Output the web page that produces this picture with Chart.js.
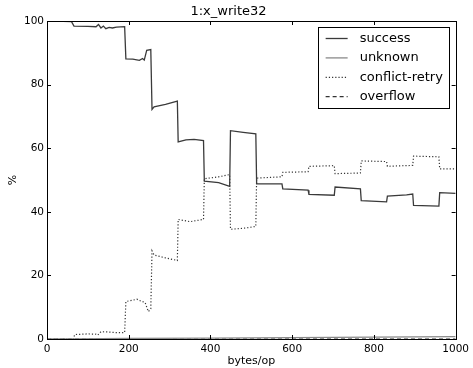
<!DOCTYPE html>
<html>
<head>
<meta charset="utf-8">
<script src="https://cdn.jsdelivr.net/npm/chart.js@4/dist/chart.umd.min.js"></script>
<style>
  body { margin: 0; background: #fff; }
  #wrap { width: 473px; height: 368px; }
</style>
</head>
<body>
<div id="wrap"><canvas id="c" width="473" height="368"></canvas></div>
<script>
// tick labels
var xTicks = [0, 200, 400, 600, 800, 1000];
var yTicks = [0, 20, 40, 60, 80, 100];

// success (% of ops)
var successX = [0, 40, 60, 66, 100, 120, 126, 132, 138, 144, 152, 160, 170, 190,
  193, 210, 226, 234, 238, 244, 254,
  257, 262, 290, 319, 321, 340, 360, 383, 385, 420, 447, 449, 480, 511,
  513, 575, 577, 639, 641, 703, 705, 767, 769, 831, 833, 880, 895, 897, 959, 961, 1000];
var successY = [100, 99.9, 99.8, 98.4, 98.3, 98.2, 98.9, 97.8, 98.4, 97.6, 98.0, 97.8, 98.1, 98.2,
  88.1, 88.0, 87.6, 88.2, 87.7, 90.8, 91.0,
  72.2, 73.0, 73.8, 74.8, 62.0, 62.6, 62.8, 62.4, 49.6, 49.2, 48.0, 65.5, 65.0, 64.5,
  48.8, 48.8, 47.2, 46.8, 45.5, 45.2, 47.8, 47.2, 43.5, 43.1, 44.9, 45.3, 45.6, 42.0, 41.8, 46.0, 45.8];

// conflict-retry
var conflictX = [0, 64, 68, 100, 120, 124, 132, 150, 170, 190,
  193, 210, 220, 232, 240, 248, 254,
  257, 262, 290, 319, 321, 350, 383, 385, 420, 447, 449, 480, 511,
  513, 575, 577, 639, 641, 703, 705, 767, 769, 831, 833, 895, 897, 959, 961, 1000];
var conflictY = [0, 0, 1.4, 1.6, 1.5, 1.2, 2.3, 2.2, 2.0, 2.0,
  11.8, 12.2, 12.5, 11.8, 11.5, 8.6, 9.5,
  27.7, 26.4, 25.5, 24.7, 37.6, 36.9, 37.6, 50.4, 51.0, 51.7, 34.5, 34.8, 35.4,
  50.6, 51.0, 52.4, 52.6, 54.3, 54.5, 52.0, 52.2, 56.0, 55.8, 54.3, 54.6, 57.5, 57.3, 53.5, 53.5];

// unknown
var unknownX = [0, 64, 200, 400, 600, 800, 1000];
var unknownY = [0, 0.05, 0.15, 0.3, 0.45, 0.6, 0.75];

// overflow
var overflowX = [0, 1000];
var overflowY = [0, 0];

function pts(xs, ys) {
  var out = [];
  for (var i = 0; i < xs.length; i++) out.push({x: xs[i], y: ys[i]});
  return out;
}

var FONT = "'DejaVu Sans', sans-serif";

// box + inward ticks on all four sides, like the classic matplotlib style
var frame = {
  id: 'frame',
  afterDatasetsDraw: function(chart) {
    var ctx = chart.ctx, a = chart.chartArea;
    var sx = chart.scales.x, sy = chart.scales.y;
    ctx.save();
    ctx.strokeStyle = '#000';
    ctx.lineWidth = 1;
    ctx.strokeRect(Math.round(a.left) + 0.5, Math.round(a.top) + 0.5,
      Math.round(a.right - a.left), Math.round(a.bottom - a.top));
    ctx.beginPath();
    xTicks.forEach(function(v) {
      var p = Math.round(sx.getPixelForValue(v)) + 0.5;
      ctx.moveTo(p, a.bottom); ctx.lineTo(p, a.bottom - 4);
      ctx.moveTo(p, a.top); ctx.lineTo(p, a.top + 4);
    });
    yTicks.forEach(function(v) {
      var p = Math.round(sy.getPixelForValue(v)) + 0.5;
      ctx.moveTo(a.left, p); ctx.lineTo(a.left + 4, p);
      ctx.moveTo(a.right, p); ctx.lineTo(a.right - 4, p);
    });
    ctx.stroke();
    ctx.restore();
  }
};

// legend box in the upper right corner of the plot
var boxLegend = {
  id: 'boxLegend',
  afterDraw: function(chart) {
    var ctx = chart.ctx, a = chart.chartArea;
    var x0 = a.right - 138, y0 = a.top + 6, w = 131, h = 81;
    ctx.save();
    ctx.fillStyle = '#fff';
    ctx.fillRect(x0, y0, w, h);
    ctx.strokeStyle = '#000';
    ctx.lineWidth = 1;
    ctx.strokeRect(Math.round(x0) + 0.5, Math.round(y0) + 0.5, w, h);
    ctx.font = '13px ' + FONT;
    ctx.textBaseline = 'middle';
    chart.data.datasets.forEach(function(ds, i) {
      var y = y0 + 11.5 + i * 19.4;
      ctx.beginPath();
      ctx.strokeStyle = ds.borderColor;
      ctx.lineWidth = ds.borderWidth;
      ctx.setLineDash(ds.borderDash || []);
      ctx.moveTo(x0 + 8, y);
      ctx.lineTo(x0 + 30, y);
      ctx.stroke();
      ctx.setLineDash([]);
      ctx.fillStyle = '#000';
      ctx.fillText(ds.label, x0 + 42, y);
    });
    ctx.restore();
  }
};

new Chart(document.getElementById('c'), {
  type: 'line',
  data: {
    datasets: [
      {label: 'success', data: pts(successX, successY), borderColor: '#3a3a3a', borderWidth: 1.3},
      {label: 'unknown', data: pts(unknownX, unknownY), borderColor: '#8a8a8a', borderWidth: 1.3},
      {label: 'conflict-retry', data: pts(conflictX, conflictY), borderColor: '#333', borderWidth: 1.2, borderDash: [1.2, 2]},
      {label: 'overflow', data: pts(overflowX, overflowY), borderColor: '#333', borderWidth: 1.2, borderDash: [4, 3]}
    ]
  },
  options: {
    responsive: false,
    animation: false,
    layout: {padding: {left: 0, right: 16, top: 0, bottom: 0}},
    elements: {point: {radius: 0}, line: {tension: 0, fill: false}},
    plugins: {
      legend: {display: false},
      tooltip: {enabled: false},
      title: {
        display: true,
        text: '1:x_write32',
        color: '#000',
        font: {family: FONT, size: 13, weight: 'normal'},
        padding: {top: 4, bottom: 1.4}
      }
    },
    scales: {
      x: {
        type: 'linear',
        min: 0, max: 1000,
        grid: {display: false, drawTicks: false},
        border: {display: false},
        afterBuildTicks: function(s) { s.ticks = xTicks.map(function(v) { return {value: v}; }); },
        afterFit: function(s) { s.height = 29; },
        ticks: {color: '#000', font: {family: FONT, size: 10.5}, padding: 4, maxRotation: 0, autoSkip: false,
          callback: function(v) { return String(v); }},
        title: {display: true, text: 'bytes/op', color: '#000', font: {family: FONT, size: 11}, padding: 0}
      },
      y: {
        type: 'linear',
        min: 0, max: 100,
        grid: {display: false, drawTicks: false},
        border: {display: false},
        afterBuildTicks: function(s) { s.ticks = yTicks.map(function(v) { return {value: v}; }); },
        afterFit: function(s) { s.width = 47; },
        ticks: {color: '#000', font: {family: FONT, size: 10.5}, padding: 3,
          callback: function(v) { return String(v); }},
        title: {display: true, text: '%', color: '#000', font: {family: FONT, size: 11}, padding: {top: 7, bottom: 0}}
      }
    }
  },
  plugins: [frame, boxLegend]
});
</script>
</body>
</html>
